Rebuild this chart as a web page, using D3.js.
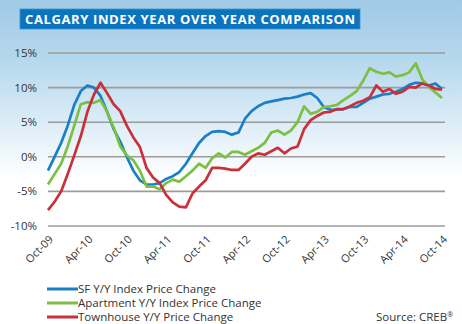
<!DOCTYPE html>
<html lang="en">
<head>
<meta charset="UTF-8">
<title>Calgary Index</title>
<style>
  html, body { margin: 0; padding: 0; }
  body { width: 462px; height: 324px; overflow: hidden; font-family: "Open Sans", sans-serif; }
  svg text { fill: #333; }
</style>
</head>
<body>
<svg id="chart" width="462" height="324"></svg>
<script src="https://d3js.org/d3.v7.min.js"></script>
<script>
  // month labels on the x axis, every 6 months from Oct-09
  const tickLabels = ["Oct-09", "Apr-10", "Oct-10", "Apr-11", "Oct-11", "Apr-12",
    "Oct-12", "Apr-13", "Oct-13", "Apr-14", "Oct-14"];
  const yTicks = [-10, -5, 0, 5, 10, 15];

  // monthly y/y change (%), Oct-09 .. Oct-14
  const sfChange = [-2.0, 0.0, 2.0, 4.5, 7.5, 9.5, 10.3, 10.0, 8.8, 6.5,
    4.0, 2.2, 0.0, -2.0, -3.4, -4.0, -4.0, -3.8, -3.2, -2.8,
    -2.2, -1.0, 0.5, 2.0, 3.0, 3.6, 3.7, 3.6, 3.2, 3.5,
    5.5, 6.6, 7.3, 7.8, 8.0, 8.2, 8.4, 8.5, 8.7, 9.0,
    9.2, 8.5, 7.2, 6.8, 6.8, 6.9, 7.2, 7.2, 7.8, 8.4,
    8.7, 9.0, 9.1, 9.4, 9.8, 10.4, 10.7, 10.6, 10.3, 10.6, 9.8];
  const aptChange = [-4.0, -2.5, -1.0, 1.5, 4.5, 7.6, 7.9, 7.8, 8.2, 6.5,
    4.2, 1.5, 0.2, -0.5, -2.0, -4.3, -4.3, -4.7, -3.8, -3.3,
    -3.6, -2.8, -2.0, -1.0, -1.6, -0.2, 0.5, -0.1, 0.7, 0.7,
    0.3, 0.8, 1.3, 2.0, 3.5, 3.8, 3.2, 3.8, 5.0, 7.3,
    6.2, 6.5, 7.2, 7.3, 7.5, 8.2, 8.8, 9.5, 11.0, 12.8,
    12.3, 12.0, 12.2, 11.6, 11.8, 12.2, 13.5, 11.2, 10.1, 9.3, 8.5];
  const townChange = [-7.7, -6.5, -5.0, -2.5, 0.2, 3.0, 6.5, 9.0, 10.7, 9.2,
    7.6, 6.6, 4.5, 2.8, 1.4, -1.6, -3.0, -3.8, -5.5, -6.6,
    -7.2, -7.3, -5.3, -4.3, -3.4, -1.6, -1.6, -1.7, -1.9, -1.9,
    -1.0, 0.0, 0.5, 0.3, 0.8, 1.3, 0.5, 1.2, 1.5, 4.0,
    5.3, 5.9, 6.4, 6.5, 6.9, 6.9, 7.3, 7.8, 8.1, 8.6,
    10.3, 9.4, 9.8, 9.1, 9.4, 10.1, 10.0, 10.6, 10.3, 9.8, 9.7];

  const seriesNames = ["SF Y/Y Index Price Change", "Apartment Y/Y Index Price Change",
    "Townhouse Y/Y Price Change"];
  const colors = ["#1b7fc6", "#7cbf42", "#c9303a"];

  const svg = d3.select("#chart");

  // page background: light blue fading to white
  const defs = svg.append("defs");
  const grad = defs.append("linearGradient").attr("id", "bg")
    .attr("x1", 0).attr("y1", 0).attr("x2", 0).attr("y2", 1);
  grad.append("stop").attr("offset", "0%").attr("stop-color", "#a0cae6");
  grad.append("stop").attr("offset", "20%").attr("stop-color", "#b8d9ee");
  grad.append("stop").attr("offset", "55%").attr("stop-color", "#ffffff");
  grad.append("stop").attr("offset", "100%").attr("stop-color", "#ffffff");
  svg.append("rect").attr("width", 462).attr("height", 324).attr("fill", "url(#bg)");

  // title box
  svg.append("rect")
    .attr("x", 20).attr("y", 9).attr("width", 340).attr("height", 20)
    .attr("fill", "#0a74bf").attr("stroke", "#3b93d0").attr("stroke-width", 0.8);
  svg.append("text")
    .attr("x", 25).attr("y", 24)
    .style("fill", "#fff")
    .style("font-weight", 700)
    .style("font-size", "13px")
    .attr("textLength", 330)
    .text("CALGARY INDEX YEAR OVER YEAR COMPARISON");

  const x = d3.scaleLinear().domain([0, 60]).range([48, 442]);
  const y = d3.scaleLinear().domain([-10, 15]).range([226, 53]);

  // horizontal gridlines
  svg.append("g")
    .selectAll("line")
    .data(yTicks)
    .join("line")
    .attr("x1", 48).attr("x2", 445)
    .attr("y1", d => y(d)).attr("y2", d => y(d))
    .attr("stroke", "#9a9c9c")
    .attr("stroke-width", 1.6);

  // y labels
  svg.append("g")
    .selectAll("text")
    .data(yTicks)
    .join("text")
    .attr("x", 37)
    .attr("y", d => y(d) + 4)
    .attr("text-anchor", "end")
    .style("font-size", "11.5px")
    .text(d => d + "%");

  // x labels, rotated
  svg.append("g")
    .selectAll("text")
    .data(tickLabels)
    .join("text")
    .attr("text-anchor", "end")
    .attr("transform", (d, i) => "translate(" + (x(i * 6) + 6) + ",240) rotate(-45)")
    .style("font-size", "11px")
    .text(d => d);

  // the three series
  const line = d3.line()
    .x((d, i) => x(i))
    .y(d => y(d));

  [sfChange, aptChange, townChange].forEach((s, k) => {
    svg.append("path")
      .datum(s)
      .attr("fill", "none")
      .attr("stroke", colors[k])
      .attr("stroke-width", 2.7)
      .attr("stroke-linejoin", "round")
      .attr("d", line);
  });

  // legend
  const legend = svg.append("g");
  seriesNames.forEach((name, k) => {
    const ly = 289 + k * 14;
    legend.append("line")
      .attr("x1", 47).attr("x2", 78)
      .attr("y1", ly).attr("y2", ly)
      .attr("stroke", colors[k])
      .attr("stroke-width", 3);
    legend.append("text")
      .attr("x", 78).attr("y", ly + 4)
      .style("font-size", "11.5px")
      .text(name);
  });

  const source = svg.append("text")
    .attr("x", 453).attr("y", 321)
    .attr("text-anchor", "end")
    .style("font-size", "11.5px")
    .text("Source: CREB");
  source.append("tspan")
    .attr("dy", -4)
    .style("font-size", "7px")
    .text("®");
</script>
</body>
</html>
